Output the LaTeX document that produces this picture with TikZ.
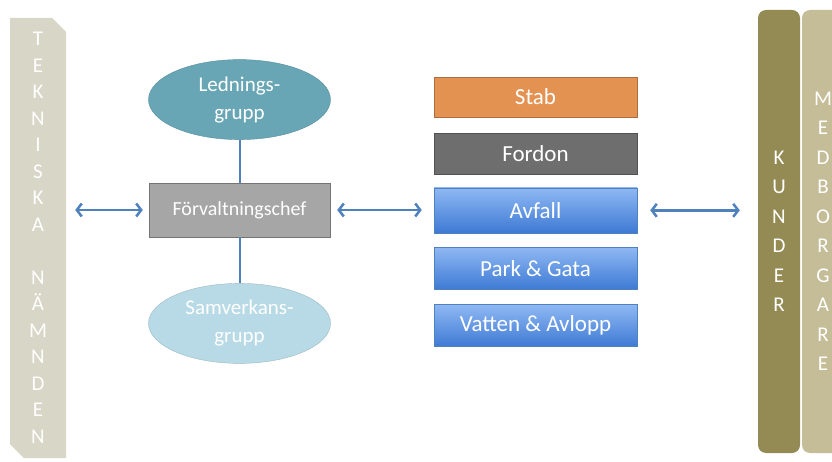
\documentclass[tikz,border=0pt]{standalone}
\usepackage{fontspec}
\setmainfont{Carlito}
\usepackage{tikz}
\usetikzlibrary{positioning, shapes, arrows.meta}

\definecolor{naemnd}{RGB}{216,214,199}
\definecolor{kundfarg}{RGB}{148,139,84}
\definecolor{medbfarg}{RGB}{196,189,151}
\definecolor{lednfarg}{RGB}{104,166,182}
\definecolor{samvfarg}{RGB}{183,218,230}
\definecolor{cheffarg}{RGB}{166,166,166}
\definecolor{stabfarg}{RGB}{228,146,82}
\definecolor{fordfarg}{RGB}{110,110,110}
\definecolor{pilblue}{RGB}{79,129,189}
\definecolor{blueup}{RGB}{143,184,243}
\definecolor{bluedown}{RGB}{62,122,212}

\tikzset{
    bar/.style={inner sep=0pt, text=white, align=center, font=\fontsize{21}{26.5}\selectfont},
    unit/.style={minimum width=203pt, inner sep=0pt, text=white, font=\fontsize{23}{26}\selectfont},
    blueunit/.style={unit, draw=pilblue, top color=blueup, bottom color=bluedown},
    group/.style={ellipse, minimum width=182pt, minimum height=80pt, inner sep=0pt, align=center, text=white, font=\fontsize{21}{28}\selectfont},
    link/.style={draw=pilblue, line width=2.5pt, {Straight Barb[length=5pt,width=13pt]}-{Straight Barb[length=5pt,width=13pt]}},
    tie/.style={draw=pilblue, line width=2pt}
}

\begin{document}
\begin{tikzpicture}[x=1pt, y=-1pt]
    \useasboundingbox (0,0) rectangle (832,462);

    \node[bar, chamfered rectangle, chamfered rectangle corners={north east, south west}, chamfered rectangle xsep=7pt, chamfered rectangle ysep=7pt, fill=naemnd, minimum width=56pt, minimum height=440pt] (naemnden) at (38,238) {T\\E\\K\\N\\I\\S\\K\\A\\ \\N\\Ä\\M\\N\\D\\E\\N};
    \node[bar, fill=medbfarg, rounded corners=8pt, minimum width=42pt, minimum height=443pt, font=\fontsize{21}{29.5}\selectfont] (medborgare) at (823,231.5) {M\\E\\D\\B\\O\\R\\G\\A\\R\\E};
    \node[bar, fill=kundfarg, rounded corners=8pt, minimum width=42pt, minimum height=443pt, font=\fontsize{21}{29.5}\selectfont] (kunder) at (779,231.5) {K\\U\\N\\D\\E\\R};

    \node[unit, draw=cheffarg!70!black, fill=cheffarg, minimum width=181pt, minimum height=54pt, font=\fontsize{20}{24}\selectfont] (chef) at (239.5,210) {Förvaltningschef};
    \node[group, draw=lednfarg!85!black, fill=lednfarg, above=43pt of chef] (ledning) {Lednings-\\grupp};
    \node[group, draw=samvfarg!85!black, fill=samvfarg, below=46pt of chef] (samverkan) {Samverkans-\\grupp};

    \node[unit, draw=stabfarg!75!black, fill=stabfarg, minimum height=40pt] (stab) at (535.5,97) {Stab};
    \node[unit, draw=fordfarg!75!black, fill=fordfarg, minimum height=41pt, below=16pt of stab] (fordon) {Fordon};
    \node[blueunit, minimum height=45pt, below=13pt of fordon] (avfall) {Avfall};
    \node[blueunit, minimum height=42pt, below=14pt of avfall] (parkgata) {Park \& Gata};
    \node[blueunit, minimum height=42pt, below=15pt of parkgata] (vatten) {Vatten \& Avlopp};

    \draw[tie] (ledning) -- (chef);
    \draw[tie] (chef) -- (samverkan);

    \draw[link, shorten <=9pt, shorten >=6pt] (naemnden.east |- chef.west) -- (chef.west);
    \draw[link, shorten <=7pt, shorten >=12pt] (chef.east) -- (chef.east -| avfall.west);
    \draw[link, shorten <=13pt, shorten >=18pt] (avfall.east) -- (avfall.east -| kunder.west);
\end{tikzpicture}
\end{document}
